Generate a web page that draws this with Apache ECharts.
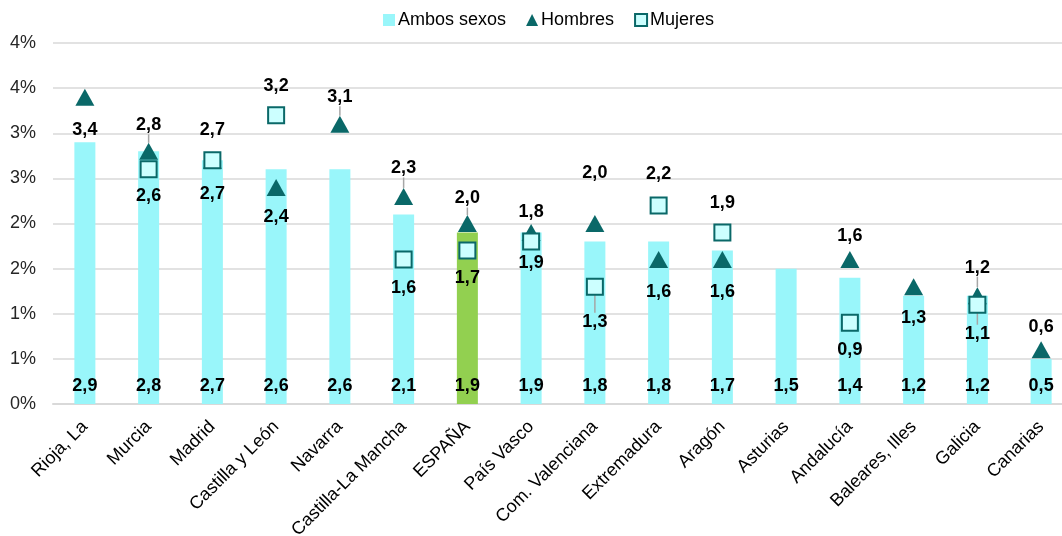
<!DOCTYPE html>
<html>
<head>
<meta charset="utf-8">
<script src="https://cdn.jsdelivr.net/npm/echarts@6/dist/echarts.min.js"></script>
<style>
  html, body { margin: 0; padding: 0; background: #fff; }
  #chart { width: 1062px; height: 536px; }
</style>
</head>
<body>
<div id="chart"></div>
<script>
// Chart data (percent)
const regiones = ["Rioja, La", "Murcia", "Madrid", "Castilla y León", "Navarra", "Castilla-La Mancha", "ESPAÑA", "País Vasco", "Com. Valenciana", "Extremadura", "Aragón", "Asturias", "Andalucía", "Baleares, Illes", "Galicia", "Canarias"];
const ambosSexos = [2.9, 2.8, 2.7, 2.6, 2.6, 2.1, 1.9, 1.9, 1.8, 1.8, 1.7, 1.5, 1.4, 1.2, 1.2, 0.5];
const hombres = [3.4, 2.8, 2.7, 2.4, 3.1, 2.3, 2.0, 1.9, 2.0, 1.6, 1.6, null, 1.6, 1.3, 1.2, 0.6];
const mujeres = [null, 2.6, 2.7, 3.2, null, 1.6, 1.7, 1.8, 1.3, 2.2, 1.9, null, 0.9, null, 1.1, null];
const yTicks = [0, 0.5, 1, 1.5, 2, 2.5, 3, 3.5, 4];

// label placement (vertical shift from the marker), and which labels get a leader line
const hombresLabelDy = [33, -26, -30, 30, -27, -28, -25, 31, -50, 32, 32, 0, -24, 31, -28, -23];
const mujeresLabelDy = [0, 27, 34, -29, 0, 28, 27, -30, 35, -31, -29, 0, 27, 0, 29, 0];
const hombresLeader = [1, 4, 5, 6, 14];
const mujeresLeader = [8, 14];

const fmt = v => v.toFixed(1).replace('.', ',');

const chart = echarts.init(document.getElementById("chart"));

function pointData(values, leaders) {
    return values.map((v, i) => {
        if (v === null) return null;
        const item = { value: v };
        if (leaders.includes(i)) item.labelLine = { show: true };
        return item;
    });
}

const labelStyle = {
    show: true,
    position: 'inside',
    fontFamily: 'Liberation Sans, Arial, sans-serif',
    fontSize: 18,
    fontWeight: 'bold',
    color: '#000',
    formatter: p => fmt(p.value)
};

const option = {
    animation: false,
    textStyle: { fontFamily: 'Liberation Sans, Arial, sans-serif' },
    legend: {
        top: 6,
        left: 378,
        itemGap: 20,
        itemWidth: 12,
        itemHeight: 12,
        textStyle: { fontSize: 18, color: '#000', padding: [0, 0, 0, -2] },
        data: [
            { name: 'Ambos sexos', icon: 'rect', itemStyle: { color: '#99F6FA' } },
            { name: 'Hombres', icon: 'triangle' },
            { name: 'Mujeres', icon: 'rect' }
        ]
    },
    grid: { left: 53, right: -11, top: 43, bottom: 132, containLabel: false, outerBoundsMode: 'none' },
    xAxis: {
        type: 'category',
        data: regiones,
        axisTick: { show: false },
        axisLine: { lineStyle: { color: '#D9D9D9', width: 2 } },
        axisLabel: { rotate: 45, fontSize: 18, color: '#000', margin: 20, interval: 0 }
    },
    yAxis: {
        type: 'value',
        min: yTicks[0],
        max: yTicks[yTicks.length - 1],
        interval: 0.5,
        axisLine: { show: false },
        axisTick: { show: false },
        splitLine: { lineStyle: { color: '#D9D9D9', width: 1.5 } },
        axisLabel: { fontSize: 18, color: '#262626', margin: 17, formatter: v => Math.round(v) + '%' }
    },
    series: [
        {
            name: 'Ambos sexos',
            type: 'bar',
            barWidth: 21,
            data: ambosSexos.map((v, i) => ({
                value: v,
                itemStyle: { color: regiones[i] === 'ESPAÑA' ? '#92D050' : '#99F6FA' }
            })),
            itemStyle: { color: '#99F6FA' },
            label: Object.assign({}, labelStyle, { position: 'insideBottom', distance: 9 })
        },
        {
            name: 'Hombres',
            type: 'scatter',
            symbol: 'triangle',
            symbolSize: [19, 17],
            itemStyle: { color: '#0A6868', opacity: 1 },
            data: pointData(hombres, hombresLeader),
            label: labelStyle,
            labelLayout: p => ({ dy: hombresLabelDy[p.dataIndex] }),
            labelLine: { show: false, lineStyle: { color: '#A6A6A6', width: 1.5 } }
        },
        {
            name: 'Mujeres',
            type: 'scatter',
            symbol: 'rect',
            symbolSize: 16,
            itemStyle: { color: '#CCFFFF', borderColor: '#0A6868', borderWidth: 2, opacity: 1 },
            data: pointData(mujeres, mujeresLeader),
            label: labelStyle,
            labelLayout: p => ({ dy: mujeresLabelDy[p.dataIndex] }),
            labelLine: { show: false, lineStyle: { color: '#A6A6A6', width: 1.5 } }
        }
    ]
};

chart.setOption(option);
</script>
</body>
</html>
